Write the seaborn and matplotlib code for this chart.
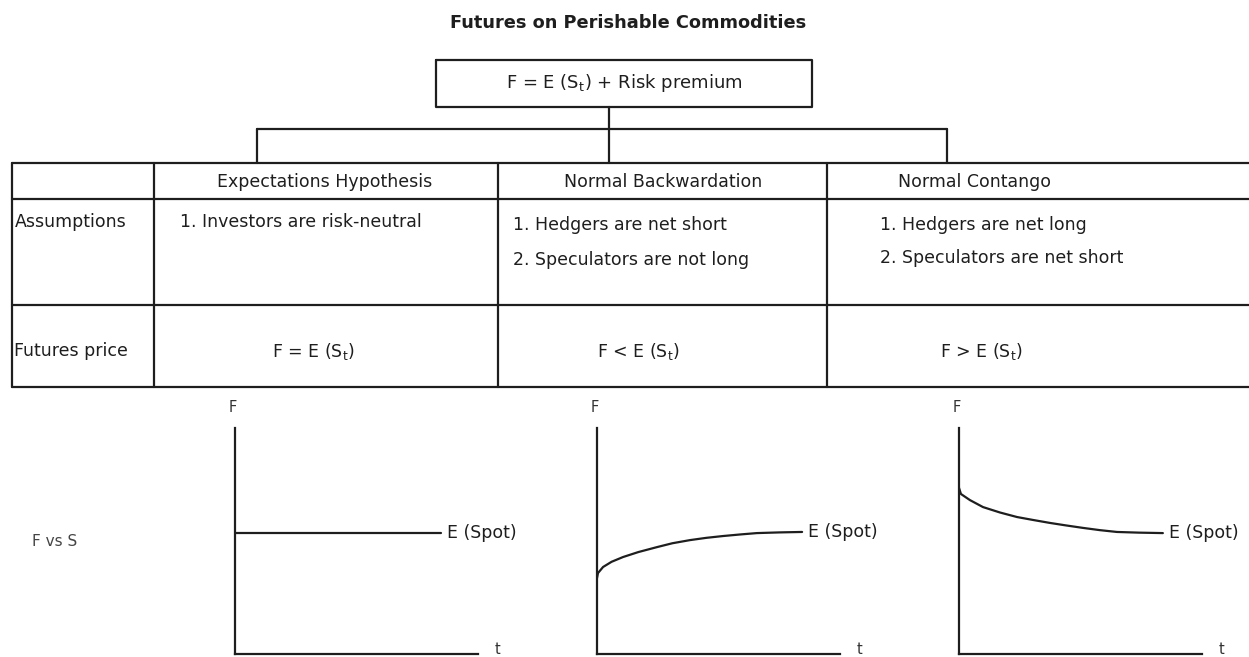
import numpy as np
import pandas as pd
import seaborn as sns
import matplotlib
matplotlib.use("Agg")
from matplotlib import pyplot as plt

# ---- chart content ----
title = "Futures on Perishable Commodities"
top_box = "F = E (S$\\mathregular{_t}$) + Risk premium"
columns = ["Expectations Hypothesis", "Normal Backwardation", "Normal Contango"]
row_labels = ["Assumptions", "Futures price"]
assumptions = [
    ["1. Investors are risk-neutral"],
    ["1. Hedgers are net short", "2. Speculators are not long"],
    ["1. Hedgers are net long", "2. Speculators are net short"],
]
prices = ["F = E (S$\\mathregular{_t}$)", "F < E (S$\\mathregular{_t}$)", "F > E (S$\\mathregular{_t}$)"]
panel_label = "F vs S"
curve_label = "E (Spot)"

# curves (t and F in panel units 0..10)
t_flat = [0.0, 8.48]
f_flat = [5.35, 5.35]
t_back = [0.0, 0.04, 0.25, 0.6, 1.07, 1.7, 2.47, 3.1, 3.83, 4.5, 5.19, 5.9, 6.58, 7.5, 8.44]
f_back = [3.36, 3.58, 3.85, 4.08, 4.29, 4.51, 4.73, 4.90, 5.04, 5.14, 5.22, 5.29, 5.35, 5.38, 5.40]
t_cont = [0.0, 0.08, 0.45, 0.99, 1.69, 2.39, 3.05, 3.74, 4.4, 5.10, 5.8, 6.50, 7.4, 8.39]
f_cont = [7.35, 7.08, 6.81, 6.50, 6.26, 6.06, 5.93, 5.80, 5.69, 5.58, 5.48, 5.40, 5.37, 5.35]

curves = [(t_flat, f_flat), (t_back, f_back), (t_cont, f_cont)]

sns.set_theme(style="white")
plt.rcParams['font.family'] = ['DejaVu Sans']

W, H = 1249, 657
fig = plt.figure(figsize=(W / 100, H / 100), dpi=100)
fig.patch.set_facecolor("white")

ax = fig.add_axes([0, 0, 1, 1])
ax.set_xlim(0, W)
ax.set_ylim(H, 0)
ax.axis("off")

ink = "#1e1e1e"
lw = 1.6
fs = 12.5

ax.text(628, 23, title, ha="center", va="center", fontsize=12.8, fontweight="bold", color=ink)

# top box + connectors
ax.plot([436, 812, 812, 436, 436], [60, 60, 107, 107, 60], color=ink, lw=lw)
ax.text(624, 83, top_box, ha="center", va="center", fontsize=13, color=ink)
ax.plot([609, 609], [107, 163], color=ink, lw=lw)
ax.plot([257, 947], [129, 129], color=ink, lw=lw)
ax.plot([257, 257], [129, 163], color=ink, lw=lw)
ax.plot([947, 947], [129, 163], color=ink, lw=lw)

# table grid
tab_left, tab_right = 12, 1249
row_y = [163, 199, 305, 387]
col_x = [12, 154, 498, 827]
for y in row_y:
    ax.plot([tab_left, tab_right], [y, y], color=ink, lw=lw)
for x in col_x:
    ax.plot([x, x], [row_y[0], row_y[-1]], color=ink, lw=lw)

header_x = [325, 663, 898]
header_ha = ["center", "center", "left"]
for x, ha, name in zip(header_x, header_ha, columns):
    ax.text(x, 182, name, ha=ha, va="center", fontsize=fs, color=ink)

ax.text(15, 222, row_labels[0], ha="left", va="center", fontsize=fs, color=ink)
ax.text(14, 351, row_labels[1], ha="left", va="center", fontsize=fs, color=ink)

assume_x = [180, 513, 880]
assume_y = [[222], [225, 260], [225, 258]]
for x, ys, lines in zip(assume_x, assume_y, assumptions):
    for y, line in zip(ys, lines):
        ax.text(x, y, line, ha="left", va="center", fontsize=fs, color=ink)

price_x = [272, 597, 940]
for x, p in zip(price_x, prices):
    ax.text(x, 352, p, ha="left", va="center", fontsize=fs, color=ink)

ax.text(32, 542, panel_label, ha="left", va="center", fontsize=11, color="#444444")

# small F vs t panels
panel_x0 = [235, 597, 959]
pw, p_top, p_bot = 243, 428, 654
for x0, (tt, ff) in zip(panel_x0, curves):
    pax = fig.add_axes([x0 / W, (H - p_bot) / H, pw / W, (p_bot - p_top) / H])
    pax.set_facecolor("none")
    df = pd.DataFrame({"t": tt, "F": ff})
    sns.lineplot(data=df, x="t", y="F", ax=pax, color=ink, lw=lw,
                 sort=False, estimator=None)
    pax.set_xlim(0, 10)
    pax.set_ylim(0, 10)
    for s in ["top", "right"]:
        pax.spines[s].set_visible(False)
    for s in ["left", "bottom"]:
        pax.spines[s].set_color(ink)
        pax.spines[s].set_linewidth(lw)
    pax.set_xticks([])
    pax.set_yticks([])
    pax.set_xlabel("")
    pax.set_ylabel("")
    pax.text(tt[-1] + 0.25, ff[-1], curve_label, ha="left", va="center",
             fontsize=fs, color=ink, clip_on=False)
    pax.text(-0.1, 10.9, "F", ha="center", va="center", fontsize=10.5, color="#333333", clip_on=False)
    pax.text(10.8, 0.2, "t", ha="center", va="center", fontsize=10.5, color="#333333", clip_on=False)

fig.savefig("out.png", dpi=100, facecolor="white")
